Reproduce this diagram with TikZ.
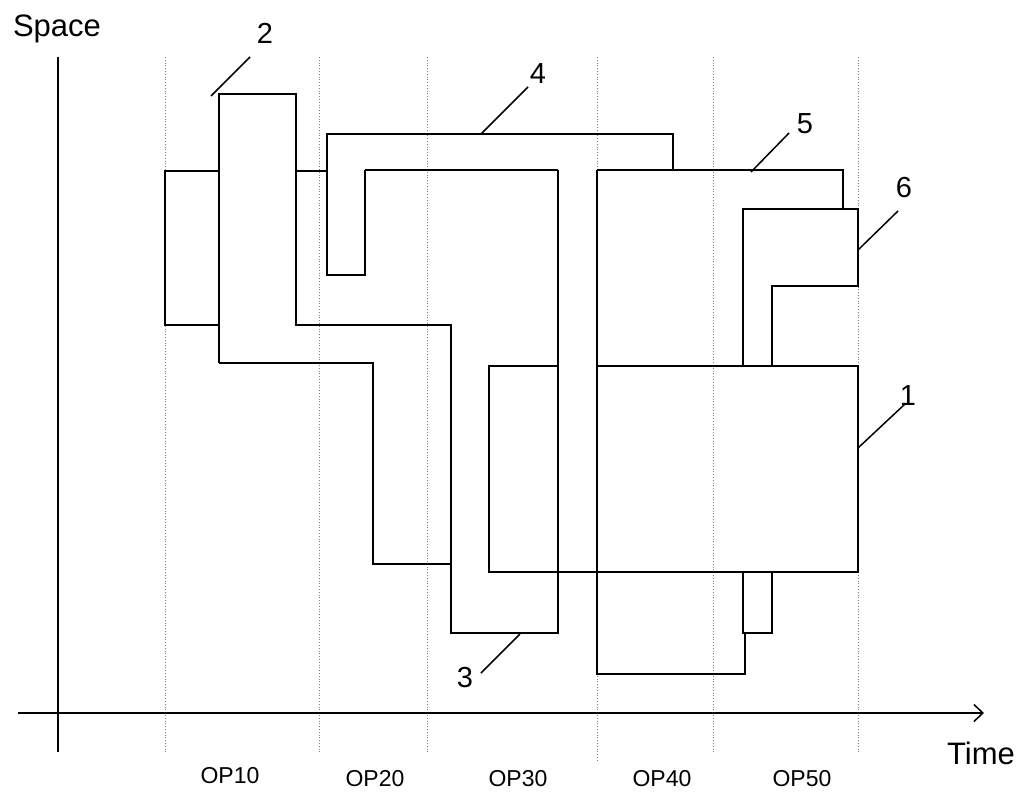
\documentclass[tikz,border=0pt]{standalone}
\usepackage{fontspec}
\setmainfont{Liberation Sans}
\usetikzlibrary{arrows.meta}
\tikzset{
  shape line/.style={line width=1.5pt, line join=miter, line cap=butt},
  heavy line/.style={line width=2.3pt},
  axis line/.style={line width=1.5pt},
  grid line/.style={line width=0.8pt, gray, dotted},
  leader/.style={line width=1.5pt},
  numlabel/.style={anchor=base, inner sep=0pt, font=\fontsize{29}{32}\selectfont},
  oplabel/.style={anchor=base, inner sep=0pt, font=\fontsize{23}{26}\selectfont},
  axlabel/.style={anchor=base, inner sep=0pt, font=\fontsize{31}{34}\selectfont}
}
\begin{document}
\begin{tikzpicture}[x=1pt,y=-1pt]
\useasboundingbox (0,0) rectangle (1017,792);
% dotted column separators
\foreach \gx in {165,319,427,713,858} \draw[grid line] (\gx,57) -- (\gx,752);
\draw[grid line] (597,57) -- (597,760);
% axes
\coordinate (yaxtop) at (58,57);
\coordinate (yaxbot) at (58,752);
\coordinate (xaxl) at (18,713);
\coordinate (xaxr) at (984,713);
\draw[axis line] (yaxtop) -- (yaxbot);
\draw[axis line, -{Straight Barb[length=9pt,width=17pt,line width=1.5pt]}] (xaxl) -- (xaxr);
\node[axlabel] (space) at (57,37) {Space};
\node[axlabel] (time) at (981,764) {Time};
% operations
\node[oplabel] (op10) at (230,783) {OP10};
\node[oplabel] (op20) at (375,786) {OP20};
\node[oplabel] (op30) at (518,786) {OP30};
\node[oplabel] (op40) at (662,786) {OP40};
\node[oplabel] (op50) at (802,786) {OP50};
% shapes
\draw[shape line] (219,171) -- (165,171) -- (165,325) -- (219,325);
\draw[shape line] (296,171) -- (327,171);
\draw[shape line] (219,363) -- (219,94) -- (296,94) -- (296,325) -- (451,325) -- (451,633) -- (558,633) -- (558,170);
\draw[shape line] (219,363) -- (373,363) -- (373,564) -- (451,564);
\draw[shape line] (365,170) -- (365,275) -- (327,275) -- (327,134) -- (673,134) -- (673,170) -- (843,170) -- (843,209);
\draw[heavy line] (365,170) -- (558,170);
\draw[heavy line] (597,170) -- (673,170);
\draw[shape line] (597,170) -- (597,674) -- (745,674) -- (745,633);
\draw[shape line] (743,366) -- (743,209) -- (858,209) -- (858,286) -- (772,286) -- (772,366);
\draw[shape line] (558,366) -- (489,366) -- (489,572) -- (858,572) -- (858,366) -- (597,366);
\draw[shape line] (743,572) -- (743,633) -- (772,633) -- (772,572);
% labels with leaders
\node[numlabel] (n2) at (265,44) {2};
\coordinate (l2a) at (250,57); \coordinate (l2b) at (211,96);
\draw[leader] (l2a) -- (l2b);
\node[numlabel] (n4) at (538,84) {4};
\coordinate (l4a) at (528,87); \coordinate (l4b) at (481,134);
\draw[leader] (l4a) -- (l4b);
\node[numlabel] (n5) at (805,133) {5};
\coordinate (l5a) at (789,133); \coordinate (l5b) at (751,172);
\draw[leader] (l5a) -- (l5b);
\node[numlabel] (n6) at (904,197) {6};
\coordinate (l6a) at (898,211); \coordinate (l6b) at (858,250);
\draw[leader] (l6a) -- (l6b);
\node[numlabel] (n1) at (908,405) {1};
\coordinate (l1a) at (905,404); \coordinate (l1b) at (858,448);
\draw[leader] (l1a) -- (l1b);
\node[numlabel] (n3) at (465,687) {3};
\coordinate (l3a) at (481,673); \coordinate (l3b) at (520,634);
\draw[leader] (l3a) -- (l3b);
\end{tikzpicture}
\end{document}
